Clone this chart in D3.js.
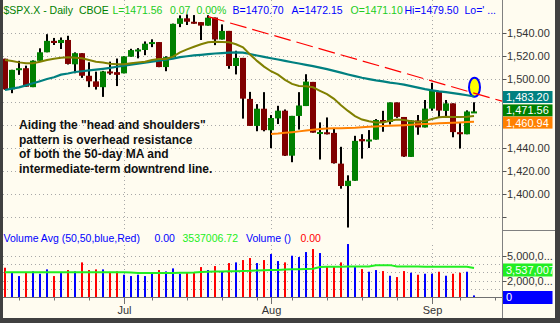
<!DOCTYPE html>
<html>
<head>
<meta charset="utf-8">
<script src="https://cdn.jsdelivr.net/npm/d3@7"></script>
<style>
  html, body { margin: 0; padding: 0; background: #fffcf0; }
  svg { display: block; font-family: "Liberation Sans", Arial, sans-serif; }
</style>
</head>
<body>
<svg id="chart" width="560" height="323"></svg>
<script>
// ---- data ----
const dates = [
  "2007-06-07","2007-06-08","2007-06-11","2007-06-12","2007-06-13","2007-06-14","2007-06-15","2007-06-18","2007-06-19","2007-06-20",
  "2007-06-21","2007-06-22","2007-06-25","2007-06-26","2007-06-27","2007-06-28","2007-06-29","2007-07-02","2007-07-03","2007-07-05",
  "2007-07-06","2007-07-09","2007-07-10","2007-07-11","2007-07-12","2007-07-13","2007-07-16","2007-07-17","2007-07-18","2007-07-19",
  "2007-07-20","2007-07-23","2007-07-24","2007-07-25","2007-07-26","2007-07-27","2007-07-30","2007-07-31","2007-08-01","2007-08-02",
  "2007-08-03","2007-08-06","2007-08-07","2007-08-08","2007-08-09","2007-08-10","2007-08-13","2007-08-14","2007-08-15","2007-08-16",
  "2007-08-17","2007-08-20","2007-08-21","2007-08-22","2007-08-23","2007-08-24","2007-08-27","2007-08-28","2007-08-29","2007-08-30",
  "2007-08-31","2007-09-04","2007-09-05","2007-09-06","2007-09-07","2007-09-10","2007-09-11","2007-09-12"
];
// empty slots to the right of the last bar
const futureDates = ["2007-09-13","2007-09-14","2007-09-17","2007-09-18"];

const open = [
  1517.38,1490.71,1507.64,1509.12,1492.65,1515.58,1522.97,1532.90,1531.02,1533.68,
  1512.50,1522.19,1502.56,1497.68,1492.62,1506.32,1505.70,1504.66,1519.12,1524.86,
  1524.96,1530.43,1531.85,1510.12,1518.74,1547.68,1552.50,1549.52,1549.20,1546.13,
  1553.19,1534.06,1541.57,1511.03,1518.09,1482.44,1458.93,1473.90,1455.18,1465.46,
  1472.18,1433.04,1467.62,1476.22,1497.21,1453.09,1453.42,1452.87,1426.15,1406.64,
  1411.26,1447.50,1445.55,1447.03,1464.05,1462.34,1479.36,1466.72,1432.01,1463.67,
  1457.61,1473.96,1488.76,1472.03,1478.55,1453.50,1451.69,1471.10
];
const high = [
  1517.38,1507.76,1515.53,1511.33,1515.96,1526.45,1538.71,1535.44,1535.85,1537.32,
  1522.90,1522.19,1514.29,1506.12,1506.80,1514.84,1517.53,1519.45,1526.01,1526.57,
  1532.40,1534.26,1531.85,1519.53,1547.92,1555.10,1555.90,1555.32,1549.20,1555.20,
  1553.19,1547.23,1541.57,1524.31,1518.09,1488.53,1477.88,1488.30,1468.38,1476.43,
  1473.23,1467.67,1488.30,1503.89,1497.21,1462.02,1466.30,1456.74,1440.78,1415.97,
  1450.33,1451.75,1455.32,1464.86,1472.06,1479.40,1479.36,1466.72,1463.76,1468.43,
  1481.47,1496.40,1488.76,1481.49,1478.55,1462.25,1472.48,1479.50
];
const low = [
  1490.37,1487.41,1503.35,1492.97,1492.65,1515.58,1522.97,1529.31,1525.84,1512.36,
  1504.75,1500.74,1492.68,1490.54,1484.18,1503.41,1493.61,1504.66,1519.12,1517.72,
  1520.47,1527.45,1510.01,1506.52,1518.74,1544.85,1546.69,1547.74,1533.67,1546.13,
  1529.20,1534.06,1508.62,1503.73,1465.30,1458.95,1454.32,1454.25,1439.59,1460.58,
  1432.80,1427.39,1455.80,1476.22,1453.09,1429.74,1451.54,1426.20,1404.36,1370.60,
  1411.26,1430.54,1439.76,1447.03,1453.88,1460.26,1465.98,1432.01,1432.01,1451.25,
  1457.61,1472.15,1466.34,1467.41,1449.07,1439.29,1451.69,1470.50
];
const close = [
  1490.72,1507.67,1509.12,1493.00,1515.67,1522.97,1532.91,1531.05,1533.70,1512.84,
  1522.19,1502.56,1497.74,1492.89,1506.34,1505.71,1503.35,1519.43,1524.87,1525.40,
  1530.44,1531.85,1510.12,1518.76,1547.70,1552.50,1549.52,1549.37,1546.17,1553.08,
  1534.10,1541.57,1511.04,1518.09,1482.66,1458.95,1473.91,1455.27,1465.81,1472.20,
  1433.06,1467.67,1476.71,1497.49,1453.09,1453.64,1452.92,1426.54,1406.70,1411.27,
  1445.94,1445.55,1447.12,1464.07,1462.50,1479.37,1466.79,1432.36,1463.76,1457.64,
  1473.99,1489.42,1472.29,1478.55,1453.55,1451.70,1471.49,1471.56
];
// volume, millions
const volume = [
  3.57,3.01,2.57,3.01,3.13,2.85,3.37,2.57,2.93,3.29,
  3.13,4.21,3.29,3.37,3.37,3.01,3.13,2.73,2.57,2.73,
  2.57,2.85,3.29,3.13,3.49,2.85,3.01,3.01,3.65,3.29,
  3.77,3.13,4.13,4.21,4.49,4.73,4.13,4.49,5.21,4.37,
  4.21,5.01,4.85,5.45,5.81,5.33,3.77,3.77,4.21,6.41,
  3.65,3.41,3.09,3.29,3.17,2.61,2.45,3.17,2.97,2.73,
  2.85,2.85,3.09,2.61,2.85,2.97,3.09,0.25
];
const volumeAvg = [
  3.02,3.02,3.03,3.03,3.03,3.03,3.03,3.03,3.03,3.03,
  3.03,3.03,3.03,3.03,3.02,3.02,3.02,3.02,3.01,2.93,
  2.93,2.94,2.94,2.94,2.95,2.96,2.97,3.00,3.05,3.08,
  3.12,3.13,3.14,3.16,3.18,3.20,3.24,3.28,3.30,3.30,
  3.36,3.38,3.40,3.42,3.45,3.66,3.68,3.70,3.70,3.72,
  3.72,3.72,3.72,3.86,3.88,3.88,3.72,3.72,3.71,3.71,
  3.70,3.70,3.70,3.69,3.69,3.69,3.69,3.537
];
const ma20 = [
  1516.2,1515.4,1514.2,1513.4,1513.4,1514.8,1516.2,1517.4,1518.3,1518.6,
  1518.3,1517.7,1516.2,1514.8,1514.0,1513.1,1512.5,1512.5,1513.4,1514.2,
  1514.8,1516.2,1517.1,1517.1,1519.2,1522.9,1525.5,1527.8,1529.9,1531.6,
  1532.2,1531.9,1531.6,1529.9,1527.3,1521.0,1515.5,1510.5,1506.5,1503.5,
  1499.0,1495.5,1493.7,1493.5,1492.5,1489.5,1486.5,1482.5,1477.0,1472.0,
  1467.5,1464.5,1463.0,1462.0,1462.0,1463.5,1464.5,1464.0,1463.0,1462.6,
  1463.2,1465.0,1466.4,1467.0,1466.8,1466.7,1467.0,1467.6
];
const ma50 = [
  1490.2,1491.3,1492.5,1494.2,1496.0,1497.8,1499.7,1501.2,1503.5,1504.5,
  1505.8,1506.5,1507.2,1507.9,1508.6,1509.4,1510.4,1511.3,1512.3,1513.1,
  1513.9,1514.8,1515.7,1516.6,1517.5,1518.8,1519.5,1520.3,1520.8,1521.3,
  1521.9,1522.3,1522.7,1522.9,1522.6,1521.5,1520.2,1519.0,1517.8,1516.7,
  1515.5,1514.3,1513.2,1512.0,1510.9,1509.6,1508.3,1506.8,1505.3,1503.7,
  1502.2,1500.8,1499.6,1498.5,1497.6,1496.6,1495.8,1494.8,1493.6,1492.2,
  1490.9,1489.9,1489.0,1488.3,1487.5,1486.6,1485.6,1484.5
];
const ma200 = [
  null,null,null,null,null,null,null,null,null,null,
  null,null,null,null,null,null,null,null,null,null,
  null,null,null,null,null,null,null,null,null,null,
  null,null,null,null,null,null,null,null,1451.9,1452.3,
  1452.9,1453.5,1454.2,1454.9,1455.6,1456.3,1456.7,1456.9,1457.0,1457.2,
  1457.4,1457.8,1458.2,1458.5,1458.8,1459.0,1459.3,1459.6,1459.9,1460.3,
  1460.6,1460.9,1461.2,1461.5,1461.8,1462.0,1462.3,1462.5
];
// downtrend line: two anchor points
const trendDates = ["2007-07-19", "2007-09-18"];
const trendValues = [1554.0, 1480.5];
// annotation circle on the last bar
const markDate = "2007-09-12";
const markValue = 1492.5;

const priceGrid = [1380, 1400, 1420, 1440, 1460, 1480, 1500, 1520, 1540];
const priceTicks = [1380, 1400, 1420, 1440, 1500, 1520, 1540];
const priceTickLabels = [1400, 1420, 1440, 1500, 1520, 1540];
const volGrid = [1, 2, 3, 4, 5];
const volTickLabels = [2, 5];

const lastBoxes = [
  { value: 1483.20, text: "1,483.20", fill: "#008080" },
  { value: 1471.56, text: "1,471.56", fill: "#008000" },
  { value: 1460.94, text: "1,460.94", fill: "#ff8000" }
];
const volBoxes = [
  { value: 3.537, text: "3,537,007", fill: "#22ee22" },
  { value: 0, text: "0", fill: "#0000ff" }
];

const headerParts = [
  { t: "$SPX.X - Daily", c: "#008000", x: 3.5 },
  { t: "CBOE", c: "#008000", x: 79 },
  { t: "L=1471.56", c: "#22cc22", x: 112.5 },
  { t: "0.07", c: "#22cc22", x: 170 },
  { t: "0.00%", c: "#22cc22", x: 196.5 },
  { t: "B=1470.70", c: "#0000ff", x: 232.5 },
  { t: "A=1472.15", c: "#0000ff", x: 291.5 },
  { t: "O=1471.10", c: "#22cc22", x: 350.5 },
  { t: "Hi=1479.50", c: "#0000ff", x: 404.5 },
  { t: "Lo=' ...", c: "#0000ff", x: 464.5 }
];
const volTitleParts = [
  { t: "Volume Avg (50,50,blue,Red)", c: "#0000ff", x: 3.5 },
  { t: "0.00", c: "#0000ff", x: 154.5 },
  { t: "3537006.72", c: "#22ee22", x: 182.5 },
  { t: "Volume ()", c: "#0000ff", x: 246 },
  { t: "0.00", c: "#ff0000", x: 300.5 }
];
const note = [
  "Aiding the \"head and shoulders\"",
  "pattern is overhead resistance",
  "of both the 50-day MA and",
  "intermediate-term downtrend line."
];

// ---- layout ----
const W = 560, H = 323;
const plotL = 3, plotR = 502.5;
const priceBottom = 230;
const volBase = 297.5;
const bg = "#fffcf0";

const parse = d3.timeParse("%Y-%m-%d");
const allDates = dates.concat(futureDates).map(parse);
const n = dates.length;
const idxOf = s => allDates.findIndex(d => +d === +parse(s));

const x = d3.scaleLinear().domain([0, n - 1]).range([5, 474]);
const y = d3.scaleLinear().domain([1380, 1540]).range([216.7, 32.7]);
const yv = d3.scaleLinear().domain([0, 5]).range([volBase, 255.8]);

const svg = d3.select("#chart");
svg.append("rect").attr("width", W).attr("height", H).attr("fill", bg);

const defs = svg.append("defs");
defs.append("clipPath").attr("id", "clipPrice")
  .append("rect").attr("x", plotL).attr("y", 0).attr("width", plotR - plotL).attr("height", priceBottom);
defs.append("clipPath").attr("id", "clipVol")
  .append("rect").attr("x", plotL).attr("y", priceBottom).attr("width", plotR - plotL).attr("height", volBase - priceBottom);

const dotted = { stroke: "#a8a8a8", "stroke-width": 1, "stroke-dasharray": "1,3" };
const applyAttrs = (sel, attrs) => { Object.entries(attrs).forEach(([k, v]) => sel.attr(k, v)); return sel; };

// month starts and week starts from the dates
const monthStarts = [], weekStarts = [];
allDates.forEach((d, i) => {
  if (i === 0) return;
  const p = allDates[i - 1];
  if (d.getMonth() !== p.getMonth()) monthStarts.push(i);
  if (+d3.timeMonday.floor(d) !== +d3.timeMonday.floor(p)) weekStarts.push(i);
});

// ---- grid ----
const grid = svg.append("g");
priceGrid.forEach(v => {
  applyAttrs(grid.append("line"), dotted)
    .attr("x1", plotL).attr("x2", plotR).attr("y1", Math.round(y(v)) + 0.5).attr("y2", Math.round(y(v)) + 0.5);
});
volGrid.forEach(v => {
  applyAttrs(grid.append("line"), dotted)
    .attr("x1", plotL).attr("x2", plotR).attr("y1", Math.round(yv(v)) + 0.5).attr("y2", Math.round(yv(v)) + 0.5);
});
monthStarts.forEach(i => {
  const cx = Math.round(x(i)) + 0.5;
  applyAttrs(grid.append("line"), dotted).attr("x1", cx).attr("x2", cx).attr("y1", 0).attr("y2", priceBottom);
  applyAttrs(grid.append("line"), dotted).attr("x1", cx).attr("x2", cx).attr("y1", 245).attr("y2", volBase);
});

// ---- price panel ----
const pg = svg.append("g").attr("clip-path", "url(#clipPrice)");

const candles = pg.append("g");
close.forEach((c, i) => {
  const cx = Math.round(x(i));
  const up = c >= open[i];
  candles.append("rect")
    .attr("x", cx - 1).attr("width", 2)
    .attr("y", y(high[i])).attr("height", Math.max(1, y(low[i]) - y(high[i])))
    .attr("fill", "#000");
  const top = y(Math.max(open[i], c));
  const h = Math.max(2, Math.abs(y(open[i]) - y(c)));
  candles.append("rect")
    .attr("x", cx - 3).attr("width", 6)
    .attr("y", top).attr("height", h)
    .attr("fill", up ? "#008000" : "#800000");
});

// annotation ellipse round the last bar
pg.append("ellipse")
  .attr("cx", x(idxOf(markDate)) + 0.5).attr("cy", y(markValue))
  .attr("rx", 5.5).attr("ry", 9.5)
  .attr("fill", "#ffff00").attr("stroke", "#0000ff").attr("stroke-width", 2);

const line = d3.line().defined(d => d != null).x((d, i) => x(i)).y(d => y(d));
pg.append("path").attr("d", line(ma50)).attr("fill", "none").attr("stroke", "#008080").attr("stroke-width", 2.2);
pg.append("path").attr("d", line(ma20)).attr("fill", "none").attr("stroke", "#808000").attr("stroke-width", 2);
pg.append("path").attr("d", line(ma200)).attr("fill", "none").attr("stroke", "#ff8000").attr("stroke-width", 2);

const t0 = idxOf(trendDates[0]), t1 = idxOf(trendDates[1]);
pg.append("line")
  .attr("x1", x(t0)).attr("y1", y(trendValues[0]))
  .attr("x2", x(t1)).attr("y2", y(trendValues[1]))
  .attr("stroke", "#ff0000").attr("stroke-width", 1.2).attr("stroke-dasharray", "17,6");

// note text
const noteG = svg.append("g");
note.forEach((s, i) => {
  noteG.append("text").attr("x", 19).attr("y", 129 + i * 14.7)
    .attr("font-size", 12).attr("font-weight", "bold").attr("fill", "#111").text(s);
});

// ---- volume panel ----
const vg = svg.append("g").attr("clip-path", "url(#clipVol)");
volume.forEach((v, i) => {
  const cx = Math.round(x(i));
  vg.append("rect")
    .attr("x", cx - 1).attr("width", 2)
    .attr("y", yv(v)).attr("height", yv(0) - yv(v))
    .attr("fill", close[i] >= open[i] ? "#0000ff" : "#ff0000");
});
const vline = d3.line().x((d, i) => x(i)).y(d => yv(d));
vg.append("path").attr("d", vline(volumeAvg)).attr("fill", "none").attr("stroke", "#22ee22").attr("stroke-width", 2);

// time axis
const ax = svg.append("g");
ax.append("line").attr("x1", plotL).attr("x2", plotR).attr("y1", volBase).attr("y2", volBase)
  .attr("stroke", "#707070").attr("stroke-width", 1);
weekStarts.forEach(i => {
  const cx = Math.round(x(i)) + 0.5;
  if (cx > plotR) return;
  const major = monthStarts.includes(i);
  ax.append("line").attr("x1", cx).attr("x2", cx).attr("y1", volBase).attr("y2", volBase + (major ? 6.5 : 3))
    .attr("stroke", "#707070");
});
monthStarts.forEach(i => {
  const cx = Math.round(x(i)) + 0.5;
  ax.append("line").attr("x1", cx).attr("x2", cx).attr("y1", volBase).attr("y2", volBase + 6.5).attr("stroke", "#707070");
  ax.append("text").attr("x", cx).attr("y", 314).attr("text-anchor", "middle")
    .attr("font-size", 11).attr("fill", "#333").text(d3.timeFormat("%b")(allDates[i]));
});

// ---- right axis ----
const ra = svg.append("g");
ra.append("line").attr("x1", plotR).attr("x2", plotR).attr("y1", 0).attr("y2", 318).attr("stroke", "#808080");
ra.append("line").attr("x1", plotR).attr("x2", 555).attr("y1", priceBottom + 0.5).attr("y2", priceBottom + 0.5).attr("stroke", "#808080");

const fmtP = d3.format(",.2f");
priceTicks.forEach(v => {
  const yy = Math.round(y(v)) + 0.5;
  ra.append("line").attr("x1", plotR).attr("x2", plotR + 4).attr("y1", yy).attr("y2", yy).attr("stroke", "#555");
  if (priceTickLabels.includes(v)) {
    ra.append("text").attr("x", 507).attr("y", yy).attr("dy", "0.36em")
      .attr("font-size", 11).attr("fill", "#333").text(fmtP(v));
  }
});
lastBoxes.forEach(b => {
  const cy = y(b.value) - 1;
  ra.append("rect").attr("x", plotR + 0.5).attr("y", cy - 6).attr("width", 552 - plotR).attr("height", 12).attr("fill", b.fill);
  ra.append("text").attr("x", 506).attr("y", cy).attr("dy", "0.36em")
    .attr("font-size", 11).attr("fill", "#fff").text(b.text);
});

const fmtV = v => { const s = d3.format(",")(v * 1e6); return s.slice(0, 7) + "..."; };
volTickLabels.forEach(v => {
  const yy = Math.round(yv(v)) + 0.5;
  ra.append("line").attr("x1", plotR).attr("x2", plotR + 4).attr("y1", yy).attr("y2", yy).attr("stroke", "#555");
  ra.append("text").attr("x", 507).attr("y", yy).attr("dy", "0.36em")
    .attr("font-size", 11).attr("fill", "#333").text(fmtV(v));
});
volBoxes.forEach(b => {
  const cy = yv(b.value) + (b.value > 0 ? 2 : 0);
  const g = ra.append("g");
  g.append("rect").attr("x", plotR + 0.5).attr("y", cy - 6.5).attr("width", 552 - plotR).attr("height", 13).attr("fill", b.fill);
  g.append("text").attr("x", 506).attr("y", cy).attr("dy", "0.36em")
    .attr("font-size", 11).attr("fill", "#fff").text(b.text);
});

// ---- titles ----
headerParts.forEach(p => {
  svg.append("text").attr("x", p.x).attr("y", 14).attr("font-size", 10.5).attr("fill", p.c).text(p.t);
});
volTitleParts.forEach(p => {
  svg.append("text").attr("x", p.x).attr("y", 242).attr("font-size", 10.5).attr("fill", p.c).text(p.t);
});

// ---- window frame ----
svg.append("rect").attr("x", 0).attr("y", 0).attr("width", 3).attr("height", H).attr("fill", "#404040");
svg.append("rect").attr("x", 0).attr("y", 318).attr("width", W).attr("height", 5).attr("fill", "#404040");
svg.append("rect").attr("x", 555).attr("y", 0).attr("width", 5).attr("height", H).attr("fill", "#404040");
</script>
</body>
</html>
